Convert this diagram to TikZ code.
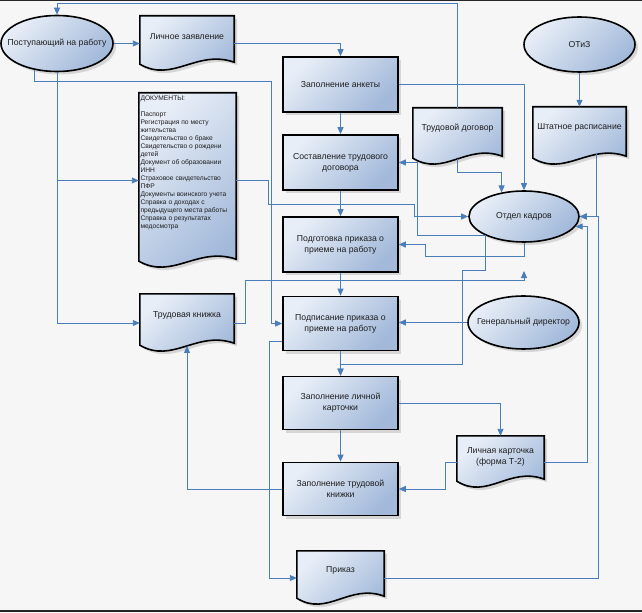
\documentclass[tikz,border=0pt]{standalone}
\usepackage{fontspec}
\setmainfont{Liberation Sans}
\usepackage{tikz}
\usetikzlibrary{arrows.meta, shapes.geometric, calc, backgrounds, shadows}
\definecolor{cpage}{HTML}{F6F6F6}
\definecolor{cfillA}{HTML}{E8EEF7}
\definecolor{cfillB}{HTML}{A2B9DA}
\definecolor{cline}{HTML}{4A7EBB}
\definecolor{cink}{HTML}{1E1E1E}
% outline of a document shape (wavy bottom) round a named node
\newcommand{\docpath}[1]{(#1.north west) -- (#1.north east) -- ([yshift=9bp]#1.south east)
  .. controls ($(#1.south west)!0.6!(#1.south east)+(0,22bp)$) and ($(#1.south west)!0.35!(#1.south east)+(0,-12bp)$)
  .. ([yshift=7bp]#1.south west) -- cycle}
\newcommand{\docshape}[1]{%
  \fill[black, opacity=0.13, transform canvas={xshift=3bp, yshift=-3bp}] \docpath{#1};
  \path[draw=black, line width=1.6bp, top color=cfillA, bottom color=cfillB, shading angle=45] \docpath{#1};}

\begin{document}
\begin{tikzpicture}[x=1bp, y=-1bp,
  font=\fontsize{8.7}{11}\selectfont,
  shdw/.style={drop shadow={shadow xshift=3bp, shadow yshift=-3bp, fill=black, opacity=0.13}},
  proc/.style={rectangle, draw=black, line width=1.6bp, top color=cfillA, bottom color=cfillB,
               shading angle=45, text=cink, align=center, minimum width=115bp, inner sep=2bp, shdw},
  oval/.style={ellipse, draw=black, line width=1.6bp, top color=cfillA, bottom color=cfillB,
               shading angle=45, text=cink, inner xsep=-25bp, inner ysep=0bp, shdw},
  doc/.style={rectangle, inner sep=0pt},
  doclbl/.style={text=cink, align=center, inner sep=0pt},
  flow/.style={-{Triangle[length=7bp,width=6bp]}, draw=cline, line width=0.9bp}
]
\useasboundingbox (0,0) rectangle (642,613);

% ellipses
\node[oval, minimum width=112bp, minimum height=56bp] (post)   at (57,43.5)    {Поступающий на работу};
\node[oval, minimum width=111bp, minimum height=55bp] (otiz)   at (579.5,44.5) {ОТиЗ};
\node[oval, minimum width=110bp, minimum height=51bp] (kadry)  at (524,216.5)  {Отдел кадров};
\node[oval, minimum width=111bp, minimum height=53bp] (gendir) at (523.5,322.5) {Генеральный директор};

% process boxes
\node[proc, minimum height=55bp] (anketa)  at (340.5,84.5)  {Заполнение анкеты};
\node[proc, minimum height=55bp] (dogovor) at (340.5,162.5) {Составление трудового\\договора};
\node[proc, minimum height=55bp] (podgot)  at (340.5,244.5) {Подготовка приказа о\\приеме на работу};
\node[proc, minimum height=54bp] (podpis)  at (340.5,323.5) {Подписание приказа о\\приеме на работу};
\node[proc, minimum height=53bp] (kartzap) at (340.5,403)   {Заполнение личной\\карточки};
\node[proc, minimum height=53bp] (knizap)  at (340.5,489)   {Заполнение трудовой\\книжки};

% documents
\node[doc, minimum width=94bp, minimum height=55bp,
      label={[doclbl, yshift=6.5bp]center:Личное заявление}] (lz) at (187,43.5) {};
\node[doc, minimum width=94bp, minimum height=58bp,
      label={[doclbl, yshift=8bp]center:Трудовая книжка}] (tk) at (187,323) {};
\node[doc, minimum width=97bp, minimum height=175bp,
      label={[doclbl, align=left, anchor=north west, xshift=1.5bp, yshift=-3.3bp,
              font=\fontsize{6.7}{8}\selectfont]north west:{ДОКУМЕНТЫ:\\[8bp]Паспорт\\Регистрация по месту\\жительства\\Свидетельство о браке\\Свидетельство о рождени\\детей\\Документ об образовании\\ИНН\\Страховое свидетельство\\ПФР\\Документы воинского учета\\Справка о доходах с\\предыдущего места работы\\Справка о результатах\\медосмотра}}] (docs) at (187.5,180.5) {};
\node[doc, minimum width=89bp, minimum height=57bp,
      label={[doclbl, yshift=8.5bp]center:Трудовой договор}] (td) at (457.5,136.5) {};
\node[doc, minimum width=93bp, minimum height=58bp,
      label={[doclbl, yshift=9bp]center:Штатное расписание}] (shr) at (579.5,136) {};
\node[doc, minimum width=87bp, minimum height=52bp,
      label={[doclbl, yshift=5.5bp]center:Личная карточка\\(форма Т-2)}] (lk) at (500.5,462) {};
\node[doc, minimum width=87bp, minimum height=54bp,
      label={[doclbl, yshift=8bp]center:Приказ}] (prikaz) at (340.5,578) {};

\begin{scope}[on background layer]
  \fill[cpage] (0,0) rectangle (642,613);
  \docshape{lz} \docshape{tk} \docshape{docs} \docshape{td}
  \docshape{shr} \docshape{lk} \docshape{prikaz}
\end{scope}

\coordinate (kdin) at (524,271);

% connectors
\draw[flow] (post.east) -- (lz.west);
\draw[flow] (lz.east) -| (anketa.north);
\draw[flow] (anketa.south) -- (dogovor.north);
\draw[flow] (dogovor.south) -- (podgot.north);
\draw[flow] (podgot.south) -- (podpis.north);
\draw[flow] (podpis.south) -- (kartzap.north);
\draw[flow] (kartzap.south) -- (knizap.north);
\draw[flow] (td.north) |- ([yshift=11bp]post.north) -- (post.north);
\draw[flow] (post.south) |- (docs.west);
\draw[flow] (post.south) |- (tk.west);
\draw[flow] (post.230) |- (271,81) |- (podpis.west);
\draw[flow] (docs.east) -| (268,204) -| ($(kadry.west)+(-54bp,0)$) -- (kadry.west);
\draw[flow] (kadry.206) -| ($(dogovor.east)+(19bp,0)$) -- (dogovor.east);
\draw[flow] (kadry.south) |- (425,256) |- (podgot.east);
\draw[flow] (kadry.206) |- (462,270) |- ([yshift=11bp]kartzap.north) -- (kartzap.north);
\draw[flow] (tk.east) -| (245,280) -| (kdin);
\draw[flow] (gendir.west) -- (gendir.west -| podpis.east);
\draw[flow] (kartzap.east) -| (lk.north);
\draw[flow] (lk.west) -- ++(-11,0) |- (knizap.east);
\draw[flow] (lk.east) -| ($(kadry.-11)+(12bp,0)$) -- (kadry.-11);
\draw[flow] ([xshift=16.5bp,yshift=12bp]shr.south) |- (kadry.east);
\draw[flow] (prikaz.east) -| ($(kadry.east)+(19bp,0)$) -- (kadry.east);
\draw[flow] ([yshift=-17.5bp]podpis.west) -- ++(-13,0) |- (prikaz.west);
\draw[flow] (knizap.west) -| ([yshift=6.3bp]tk.south);
\draw[flow] (anketa.east) -| (kadry.north);
\draw[flow] ([yshift=6.3bp]td.south) -- ++(0,14) -| (kadry.133);
\draw[flow] (otiz.south) -- (shr.north);

% screen edges
\draw[black!85, line width=1.2bp] (0,0.6) -- (642,0.6);
\draw[black!85, line width=1.5bp] (0,611) -- (642,611);
\end{tikzpicture}
\end{document}
